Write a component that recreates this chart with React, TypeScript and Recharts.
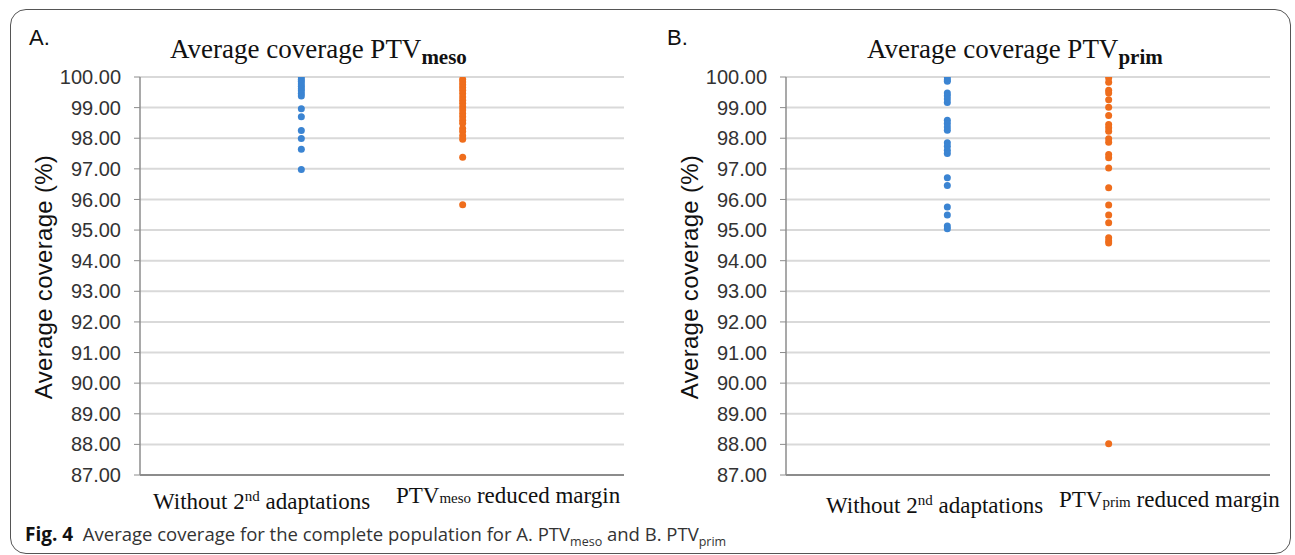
import React from "react";
import { ScatterChart, Scatter, XAxis, YAxis, CartesianGrid, ZAxis } from "recharts";

// values (average coverage, %)
const mesoWithout = [100.0, 99.92, 99.85, 99.77, 99.7, 99.62, 99.55, 99.46, 99.38, 98.96, 98.7, 98.25, 97.99, 97.64, 96.98];
const mesoReduced = [
  99.92, 99.84, 99.75, 99.66, 99.57, 99.46, 99.35, 99.24, 99.14, 99.03, 98.92, 98.81, 98.7, 98.59, 98.49, 98.32,
  98.22, 98.08, 97.97, 97.38, 95.83,
];
const primWithout = [
  100.0, 99.91, 99.86, 99.48, 99.39, 99.28, 99.17, 98.59, 98.48, 98.37, 98.26, 97.85, 97.74, 97.61, 97.5, 96.71,
  96.46, 95.75, 95.49, 95.13, 95.04,
];
const primReduced = [
  100.05, 99.97, 99.83, 99.57, 99.48, 99.26, 99.01, 98.74, 98.45, 98.34, 98.23, 97.98, 97.87, 97.47, 97.36, 97.03,
  96.38, 95.82, 95.49, 95.24, 94.75, 94.64, 94.58, 88.02,
];

const yTicks = [87, 88, 89, 90, 91, 92, 93, 94, 95, 96, 97, 98, 99, 100];
const categoryX = [1, 2]; // position of each group on the hidden x scale

const BLUE = "#3b84d2";
const ORANGE = "#ef6d1c";

const toPoints = (vals: number[], x: number) => vals.map((y) => ({ x, y }));

const dot = (color: string) => (props: any) =>
  <circle cx={props.cx} cy={props.cy} r={3.5} fill={color} />;

function Panel({ left, first, second }: { left: number; first: number[]; second: number[] }) {
  return (
    <div style={{ position: "absolute", left, top: 0 }}>
      <ScatterChart width={564} height={555} margin={{ top: 77, right: 0, bottom: 79, left: 0 }}>
        <CartesianGrid horizontal vertical={false} stroke="#d9d9d9" strokeWidth={2} />
        <XAxis
          type="number"
          dataKey="x"
          domain={[0, 3]}
          tick={false}
          tickLine={false}
          height={1}
          axisLine={{ stroke: "#8c8c8c", strokeWidth: 2 }}
        />
        <YAxis
          type="number"
          dataKey="y"
          domain={[87, 100]}
          ticks={yTicks}
          allowDataOverflow
          width={80}
          tickFormatter={(v: number) => v.toFixed(2)}
          tick={{ fill: "#333", fontSize: 20, fontFamily: "Liberation Sans, sans-serif" }}
          tickSize={6}
          tickMargin={13}
          tickLine={{ stroke: "#8c8c8c" }}
          axisLine={{ stroke: "#8c8c8c", strokeWidth: 1.5 }}
        />
        <ZAxis range={[40, 40]} />
        <Scatter data={toPoints(first, categoryX[0])} shape={dot(BLUE)} isAnimationActive={false} />
        <Scatter data={toPoints(second, categoryX[1])} shape={dot(ORANGE)} isAnimationActive={false} />
      </ScatterChart>
    </div>
  );
}

const serif = "Liberation Serif, serif";
const sans = "Liberation Sans, sans-serif";

function Title({ left, sub }: { left: number; sub: string }) {
  return (
    <div style={{ position: "absolute", left, top: 36, fontFamily: serif, fontSize: 27, lineHeight: "27px", color: "#111", whiteSpace: "nowrap" }}>
      Average coverage PTV<sub style={{ fontSize: 21, fontWeight: 700, verticalAlign: -6 }}>{sub}</sub>
    </div>
  );
}

function YTitle({ cx }: { cx: number }) {
  return (
    <div
      style={{
        position: "absolute",
        left: cx - 150,
        top: 277 - 14,
        width: 300,
        height: 28,
        lineHeight: "28px",
        textAlign: "center",
        transform: "rotate(-90deg)",
        fontFamily: sans,
        fontSize: 24,
        letterSpacing: 0.3,
        color: "#111",
        whiteSpace: "nowrap",
      }}
    >
      Average coverage (%)
    </div>
  );
}

function CatLabels({ left, top, gap, sub }: { left: number; top: number; gap: number; sub: string }) {
  const st: React.CSSProperties = { position: "absolute", top, fontFamily: serif, fontSize: 23, color: "#111", whiteSpace: "nowrap", lineHeight: "24px" };
  return (
    <>
      <div style={{ ...st, left }}>
        Without 2<sup style={{ fontSize: 15, verticalAlign: 8 }}>nd</sup> adaptations
      </div>
      <div style={{ ...st, left: left + gap }}>
        PTV<span style={{ fontSize: 15 }}>{sub}</span> reduced margin
      </div>
    </>
  );
}

export default function App() {
  return (
    <div style={{ position: "relative", width: 1295, height: 555, background: "#fff", overflow: "hidden" }}>
      <style>{`body{margin:0}`}</style>
      <div
        style={{
          position: "absolute",
          left: 10,
          top: 9,
          width: 1281,
          height: 545,
          border: "1px solid #555",
          borderRadius: 16,
          boxSizing: "border-box",
        }}
      />
      <div style={{ position: "absolute", left: 29, top: 27, fontFamily: sans, fontSize: 22, lineHeight: "22px", color: "#111" }}>A.</div>
      <div style={{ position: "absolute", left: 667, top: 27, fontFamily: sans, fontSize: 22, lineHeight: "22px", color: "#111" }}>B.</div>
      <Title left={170} sub="meso" />
      <Title left={867} sub="prim" />
      <YTitle cx={44} />
      <YTitle cx={690} />
      <Panel left={60} first={mesoWithout} second={mesoReduced} />
      <Panel left={706} first={primWithout} second={primReduced} />
      <CatLabels left={153} top={484} gap={243} sub="meso" />
      <CatLabels left={826} top={488} gap={233} sub="prim" />
      <div style={{ position: "absolute", left: 25, top: 521, fontFamily: "Open Sans, sans-serif", fontSize: 18.5, color: "#333", whiteSpace: "nowrap" }}>
        <b style={{ color: "#111", fontSize: 19 }}>Fig. 4</b>&nbsp;&nbsp;Average coverage for the complete population for A. PTV
        <sub style={{ fontSize: 12.5 }}>meso</sub> and B. PTV<sub style={{ fontSize: 12.5 }}>prim</sub>
      </div>
    </div>
  );
}
